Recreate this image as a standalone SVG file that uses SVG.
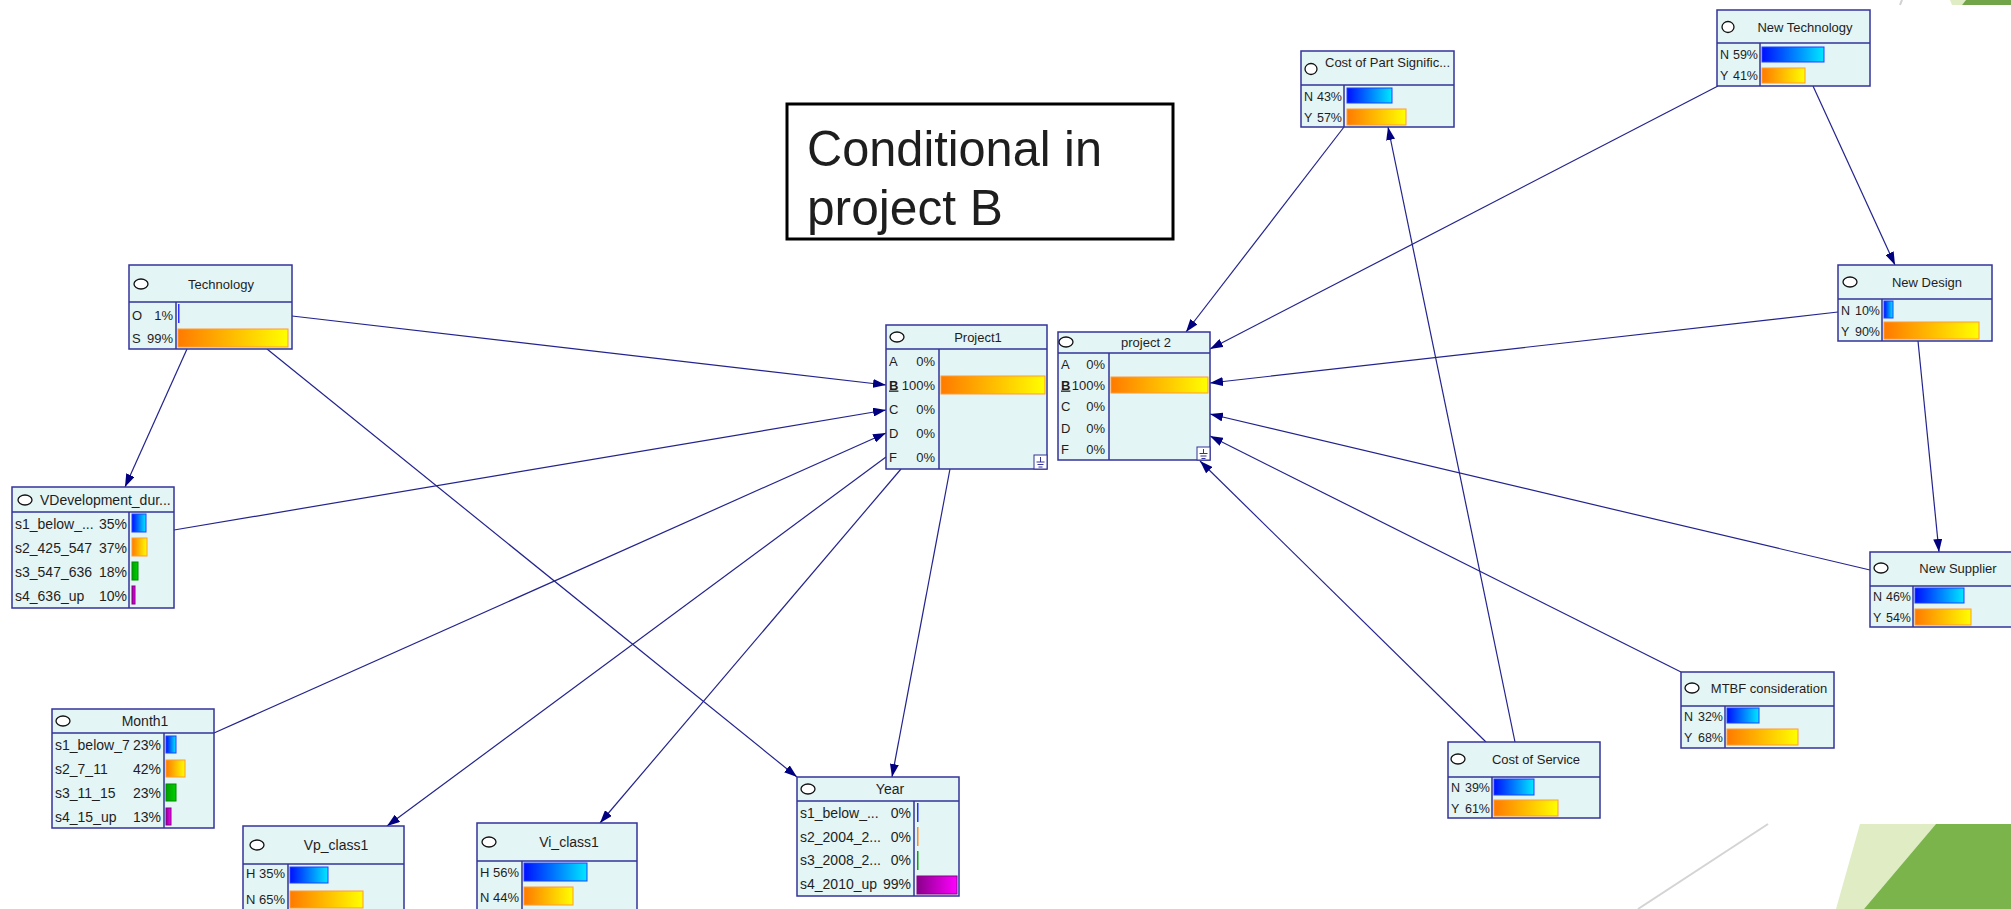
<svg xmlns="http://www.w3.org/2000/svg" width="2011" height="909" viewBox="0 0 2011 909">
  <defs>
    <style>
      .box { fill: #e4f5f5; stroke: #33339a; stroke-width: 1.5; }
      .div { stroke: #33339a; stroke-width: 1.5; fill: none; }
      .ic { fill: #ffffff; stroke: #111111; stroke-width: 1.3; }
      .t { font-family: "Liberation Sans", Arial, sans-serif; fill: #1e1e1e; }
      .h13 { font-size: 13px; }
      .h14 { font-size: 14px; }
      .r13 { font-size: 13px; }
      .r14 { font-size: 14px; }
      .r12 { font-size: 12.5px; }
      .mid { text-anchor: middle; }
      .end { text-anchor: end; }
      .sel { font-weight: bold; text-decoration: underline; }
      .edge { stroke: #23238e; stroke-width: 1.2; fill: none; marker-end: url(#arr); }
      .bb { fill: url(#gBlue); stroke: #2040ff; stroke-width: 1; }
      .bo { fill: url(#gOrange); stroke: #ff9a33; stroke-width: 1; }
      .bg { fill: url(#gGreen); stroke: #008a00; stroke-width: 1; }
      .bp { fill: url(#gPurple); stroke: #880088; stroke-width: 1; }
      .gnd { stroke: #33339a; stroke-width: 1; fill: none; }
    </style>
    <linearGradient id="gBlue" x1="0" y1="0" x2="1" y2="0">
      <stop offset="0" stop-color="#0010ff"/>
      <stop offset="1" stop-color="#00e8ff"/>
    </linearGradient>
    <linearGradient id="gOrange" x1="0" y1="0" x2="1" y2="0">
      <stop offset="0" stop-color="#ff7a00"/>
      <stop offset="1" stop-color="#ffff00"/>
    </linearGradient>
    <linearGradient id="gGreen" x1="0" y1="0" x2="1" y2="0">
      <stop offset="0" stop-color="#00a000"/>
      <stop offset="1" stop-color="#00d000"/>
    </linearGradient>
    <linearGradient id="gPurple" x1="0" y1="0" x2="1" y2="0">
      <stop offset="0" stop-color="#8a008a"/>
      <stop offset="1" stop-color="#ff00ff"/>
    </linearGradient>
    <marker id="arr" markerUnits="userSpaceOnUse" markerWidth="13" markerHeight="9" refX="13" refY="4.5" orient="auto">
      <path d="M0,0 L13,4.5 L0,9 Z" fill="#000080"/>
    </marker>
  </defs>

  <rect x="0" y="0" width="2011" height="909" fill="#ffffff"/>

  <!-- slide corner decoration -->
  <g id="decor">
    <line x1="1902" y1="0" x2="1900" y2="5" stroke="#d0d0d0" stroke-width="2"/>
    <polygon points="1950,0 1966,0 1962,5 1952,5" fill="#dfecc4"/>
    <polygon points="1966,0 2011,0 2011,5 1962,5" fill="#72a44a"/>
    <line x1="1768" y1="824" x2="1638" y2="909" stroke="#d4d4d4" stroke-width="2"/>
    <polygon points="1860,824 1936,824 1864,909 1836,909" fill="#dfecc4"/>
    <polygon points="1936,824 2011,824 2011,909 1864,909" fill="#7ab44b"/>
  </g>

  <!-- annotation box -->
  <g id="note">
    <rect x="787" y="104" width="386" height="135" fill="#ffffff" stroke="#000000" stroke-width="3"/>
    <text class="t" x="807" y="166" font-size="50" textLength="295" lengthAdjust="spacingAndGlyphs" fill="#000">Conditional in</text>
    <text class="t" x="807" y="225" font-size="50" textLength="196" lengthAdjust="spacingAndGlyphs" fill="#000">project B</text>
  </g>

  <!-- connectors -->
  <g id="connectors">
    <line class="edge" x1="292" y1="316" x2="886" y2="385"/>
    <line class="edge" x1="187" y1="349" x2="125" y2="487"/>
    <line class="edge" x1="267" y1="349" x2="797" y2="777"/>
    <line class="edge" x1="174" y1="530" x2="886" y2="410"/>
    <line class="edge" x1="214" y1="733" x2="886" y2="433"/>
    <line class="edge" x1="886" y1="457" x2="387" y2="826"/>
    <line class="edge" x1="901" y1="469" x2="600" y2="823"/>
    <line class="edge" x1="950" y1="469" x2="892" y2="777"/>
    <line class="edge" x1="1344" y1="127" x2="1186" y2="332"/>
    <line class="edge" x1="1718" y1="86" x2="1210" y2="349"/>
    <line class="edge" x1="1813" y1="86" x2="1895" y2="265"/>
    <line class="edge" x1="1838" y1="312" x2="1210" y2="383"/>
    <line class="edge" x1="1918" y1="341" x2="1939" y2="552"/>
    <line class="edge" x1="1870" y1="570" x2="1210" y2="414"/>
    <line class="edge" x1="1681" y1="672" x2="1210" y2="436"/>
    <line class="edge" x1="1486" y1="742" x2="1200" y2="461"/>
    <line class="edge" x1="1515" y1="742" x2="1388" y2="127"/>
  </g>

  <!-- Technology -->
  <g id="technology">
    <rect class="box" x="129" y="265" width="163" height="84"/>
    <line class="div" x1="129" y1="302" x2="292" y2="302"/>
    <line class="div" x1="176" y1="302" x2="176" y2="349"/>
    <ellipse class="ic" cx="141" cy="284" rx="7" ry="5"/>
    <text class="t h13 mid" x="221" y="288.5">Technology</text>
    <text class="t r13" x="132" y="319.5">O</text>
    <text class="t r13 end" x="173" y="319.5">1%</text>
    <text class="t r13" x="132" y="342.5">S</text>
    <text class="t r13 end" x="173" y="342.5">99%</text>
    <rect x="178" y="304" width="1.5" height="19" fill="#3030ff"/>
    <rect class="bo" x="178" y="329" width="110" height="18"/>
  </g>

  <!-- VDevelopment_duration -->
  <g id="vdevelopment">
    <rect class="box" x="12" y="487" width="162" height="121"/>
    <line class="div" x1="12" y1="512" x2="174" y2="512"/>
    <line class="div" x1="129" y1="512" x2="129" y2="608"/>
    <ellipse class="ic" cx="25" cy="500" rx="7" ry="5"/>
    <text class="t h14" x="40" y="505">VDevelopment_dur...</text>
    <text class="t r14" x="15" y="529">s1_below_...</text>
    <text class="t r14 end" x="127" y="529">35%</text>
    <text class="t r14" x="15" y="553">s2_425_547</text>
    <text class="t r14 end" x="127" y="553">37%</text>
    <text class="t r14" x="15" y="577">s3_547_636</text>
    <text class="t r14 end" x="127" y="577">18%</text>
    <text class="t r14" x="15" y="601">s4_636_up</text>
    <text class="t r14 end" x="127" y="601">10%</text>
    <rect class="bb" x="132" y="514" width="14" height="18"/>
    <rect class="bo" x="132" y="538" width="15" height="18"/>
    <rect class="bg" x="132" y="562" width="6" height="18"/>
    <rect class="bp" x="132" y="586" width="3" height="18"/>
  </g>

  <!-- Month1 -->
  <g id="month1">
    <rect class="box" x="52" y="709" width="162" height="119"/>
    <line class="div" x1="52" y1="733" x2="214" y2="733"/>
    <line class="div" x1="164" y1="733" x2="164" y2="828"/>
    <ellipse class="ic" cx="63" cy="721" rx="7" ry="5"/>
    <text class="t h14 mid" x="145" y="726">Month1</text>
    <text class="t r14" x="55" y="750">s1_below_7</text>
    <text class="t r14 end" x="161" y="750">23%</text>
    <text class="t r14" x="55" y="774">s2_7_11</text>
    <text class="t r14 end" x="161" y="774">42%</text>
    <text class="t r14" x="55" y="798">s3_11_15</text>
    <text class="t r14 end" x="161" y="798">23%</text>
    <text class="t r14" x="55" y="822">s4_15_up</text>
    <text class="t r14 end" x="161" y="822">13%</text>
    <rect class="bb" x="166" y="736" width="10" height="17"/>
    <rect class="bo" x="166" y="760" width="19" height="17"/>
    <rect class="bg" x="166" y="784" width="10" height="17"/>
    <rect class="bp" x="166" y="808" width="5" height="17"/>
  </g>

  <!-- Project1 -->
  <g id="project1">
    <rect class="box" x="886" y="325" width="161" height="144"/>
    <line class="div" x1="886" y1="349" x2="1047" y2="349"/>
    <line class="div" x1="939" y1="349" x2="939" y2="469"/>
    <ellipse class="ic" cx="897" cy="337" rx="7" ry="5"/>
    <text class="t h13 mid" x="978" y="341.5">Project1</text>
    <text class="t r13" x="889" y="365.5">A</text>
    <text class="t r13 end" x="935" y="365.5">0%</text>
    <text class="t r13 sel" x="889" y="389.5">B</text>
    <text class="t r13 end" x="935" y="389.5">100%</text>
    <text class="t r13" x="889" y="413.5">C</text>
    <text class="t r13 end" x="935" y="413.5">0%</text>
    <text class="t r13" x="889" y="437.5">D</text>
    <text class="t r13 end" x="935" y="437.5">0%</text>
    <text class="t r13" x="889" y="461.5">F</text>
    <text class="t r13 end" x="935" y="461.5">0%</text>
    <rect class="bo" x="941" y="376" width="104" height="18"/>
    <rect x="1034" y="455" width="13" height="14" fill="#ffffff" stroke="#33339a" stroke-width="1"/>
    <path class="gnd" d="M1040.5,457 V462 M1036.5,462 H1044.5 M1037.5,464.5 H1043.5 M1038.5,467 H1042.5"/>
  </g>

  <!-- project 2 -->
  <g id="project2">
    <rect class="box" x="1058" y="332" width="152" height="128"/>
    <line class="div" x1="1058" y1="353" x2="1210" y2="353"/>
    <line class="div" x1="1109" y1="353" x2="1109" y2="460"/>
    <ellipse class="ic" cx="1066" cy="342" rx="7" ry="5"/>
    <text class="t h13 mid" x="1146" y="346.5">project 2</text>
    <text class="t r13" x="1061" y="368.5">A</text>
    <text class="t r13 end" x="1105" y="368.5">0%</text>
    <text class="t r13 sel" x="1061" y="389.5">B</text>
    <text class="t r13 end" x="1105" y="389.5">100%</text>
    <text class="t r13" x="1061" y="411">C</text>
    <text class="t r13 end" x="1105" y="411">0%</text>
    <text class="t r13" x="1061" y="432.5">D</text>
    <text class="t r13 end" x="1105" y="432.5">0%</text>
    <text class="t r13" x="1061" y="454">F</text>
    <text class="t r13 end" x="1105" y="454">0%</text>
    <rect class="bo" x="1111" y="377" width="97" height="16"/>
    <rect x="1197" y="447" width="13" height="13" fill="#ffffff" stroke="#33339a" stroke-width="1"/>
    <path class="gnd" d="M1203.5,449 V453.5 M1199.5,453.5 H1207.5 M1200.5,456 H1206.5 M1201.5,458.5 H1205.5"/>
  </g>

  <!-- Vp_class1 -->
  <g id="vp_class1">
    <rect class="box" x="243" y="826" width="161" height="95"/>
    <line class="div" x1="243" y1="864" x2="404" y2="864"/>
    <line class="div" x1="288" y1="864" x2="288" y2="921"/>
    <ellipse class="ic" cx="257" cy="845" rx="7" ry="5"/>
    <text class="t h14 mid" x="336" y="850">Vp_class1</text>
    <text class="t r13" x="246" y="878">H</text>
    <text class="t r13 end" x="285" y="878">35%</text>
    <text class="t r13" x="246" y="904">N</text>
    <text class="t r13 end" x="285" y="904">65%</text>
    <rect class="bb" x="290" y="867" width="38" height="16"/>
    <rect class="bo" x="290" y="891" width="73" height="17"/>
  </g>

  <!-- Vi_class1 -->
  <g id="vi_class1">
    <rect class="box" x="477" y="823" width="160" height="98"/>
    <line class="div" x1="477" y1="861" x2="637" y2="861"/>
    <line class="div" x1="522" y1="861" x2="522" y2="921"/>
    <ellipse class="ic" cx="489" cy="842" rx="7" ry="5"/>
    <text class="t h14 mid" x="569" y="847">Vi_class1</text>
    <text class="t r13" x="480" y="876.5">H</text>
    <text class="t r13 end" x="519" y="876.5">56%</text>
    <text class="t r13" x="480" y="901.5">N</text>
    <text class="t r13 end" x="519" y="901.5">44%</text>
    <rect class="bb" x="524" y="863" width="63" height="18"/>
    <rect class="bo" x="524" y="887" width="49" height="18"/>
  </g>

  <!-- Year -->
  <g id="year">
    <rect class="box" x="797" y="777" width="162" height="119"/>
    <line class="div" x1="797" y1="801" x2="959" y2="801"/>
    <line class="div" x1="914" y1="801" x2="914" y2="896"/>
    <ellipse class="ic" cx="808" cy="789" rx="7" ry="5"/>
    <text class="t h14 mid" x="890" y="794">Year</text>
    <text class="t r14" x="800" y="818">s1_below_...</text>
    <text class="t r14 end" x="911" y="818">0%</text>
    <text class="t r14" x="800" y="842">s2_2004_2...</text>
    <text class="t r14 end" x="911" y="842">0%</text>
    <text class="t r14" x="800" y="865">s3_2008_2...</text>
    <text class="t r14 end" x="911" y="865">0%</text>
    <text class="t r14" x="800" y="889">s4_2010_up</text>
    <text class="t r14 end" x="911" y="889">99%</text>
    <rect x="917" y="803" width="1.5" height="19" fill="#2030ff"/>
    <rect x="917" y="827" width="1.5" height="19" fill="#ff8a20"/>
    <rect x="917" y="851" width="1.5" height="19" fill="#10a010"/>
    <rect class="bp" x="917" y="876" width="40" height="18"/>
  </g>

  <!-- Cost of Part Significance -->
  <g id="cost_of_part">
    <rect class="box" x="1301" y="51" width="153" height="76"/>
    <line class="div" x1="1301" y1="85" x2="1454" y2="85"/>
    <line class="div" x1="1344" y1="85" x2="1344" y2="127"/>
    <ellipse class="ic" cx="1311" cy="69" rx="6" ry="5.5"/>
    <text class="t h13" x="1325" y="67">Cost of Part Signific...</text>
    <text class="t r12" x="1304" y="100.5">N</text>
    <text class="t r12 end" x="1342" y="100.5">43%</text>
    <text class="t r12" x="1304" y="121.5">Y</text>
    <text class="t r12 end" x="1342" y="121.5">57%</text>
    <rect class="bb" x="1347" y="88" width="45" height="15"/>
    <rect class="bo" x="1347" y="109" width="59" height="16"/>
  </g>

  <!-- New Technology -->
  <g id="new_technology">
    <rect class="box" x="1717" y="10" width="153" height="76"/>
    <line class="div" x1="1717" y1="43" x2="1870" y2="43"/>
    <line class="div" x1="1760" y1="43" x2="1760" y2="86"/>
    <ellipse class="ic" cx="1728" cy="27" rx="6" ry="5.5"/>
    <text class="t h13 mid" x="1805" y="31.5">New Technology</text>
    <text class="t r12" x="1720" y="58.5">N</text>
    <text class="t r12 end" x="1758" y="58.5">59%</text>
    <text class="t r12" x="1720" y="80">Y</text>
    <text class="t r12 end" x="1758" y="80">41%</text>
    <rect class="bb" x="1762" y="47" width="62" height="15"/>
    <rect class="bo" x="1762" y="68" width="43" height="15"/>
  </g>

  <!-- New Design -->
  <g id="new_design">
    <rect class="box" x="1838" y="265" width="154" height="76"/>
    <line class="div" x1="1838" y1="299" x2="1992" y2="299"/>
    <line class="div" x1="1882" y1="299" x2="1882" y2="341"/>
    <ellipse class="ic" cx="1850" cy="282" rx="7" ry="5"/>
    <text class="t h13 mid" x="1927" y="286.5">New Design</text>
    <text class="t r12" x="1841" y="314.5">N</text>
    <text class="t r12 end" x="1880" y="314.5">10%</text>
    <text class="t r12" x="1841" y="335.5">Y</text>
    <text class="t r12 end" x="1880" y="335.5">90%</text>
    <rect class="bb" x="1884" y="301" width="9" height="17"/>
    <rect class="bo" x="1884" y="322" width="95" height="17"/>
  </g>

  <!-- New Supplier -->
  <g id="new_supplier">
    <rect class="box" x="1870" y="552" width="160" height="75"/>
    <line class="div" x1="1870" y1="586" x2="2030" y2="586"/>
    <line class="div" x1="1913" y1="586" x2="1913" y2="627"/>
    <ellipse class="ic" cx="1881" cy="568" rx="7" ry="5"/>
    <text class="t h13 mid" x="1958" y="572.5">New Supplier</text>
    <text class="t r12" x="1873" y="600.5">N</text>
    <text class="t r12 end" x="1911" y="600.5">46%</text>
    <text class="t r12" x="1873" y="621.5">Y</text>
    <text class="t r12 end" x="1911" y="621.5">54%</text>
    <rect class="bb" x="1915" y="588" width="49" height="15"/>
    <rect class="bo" x="1915" y="609" width="56" height="16"/>
  </g>

  <!-- MTBF consideration -->
  <g id="mtbf">
    <rect class="box" x="1681" y="672" width="153" height="76"/>
    <line class="div" x1="1681" y1="706" x2="1834" y2="706"/>
    <line class="div" x1="1725" y1="706" x2="1725" y2="748"/>
    <ellipse class="ic" cx="1692" cy="688" rx="7" ry="5"/>
    <text class="t h13 mid" x="1769" y="692.5">MTBF consideration</text>
    <text class="t r12" x="1684" y="720.5">N</text>
    <text class="t r12 end" x="1723" y="720.5">32%</text>
    <text class="t r12" x="1684" y="741.5">Y</text>
    <text class="t r12 end" x="1723" y="741.5">68%</text>
    <rect class="bb" x="1727" y="708" width="32" height="15"/>
    <rect class="bo" x="1727" y="729" width="71" height="16"/>
  </g>

  <!-- Cost of Service -->
  <g id="cost_of_service">
    <rect class="box" x="1448" y="742" width="152" height="76"/>
    <line class="div" x1="1448" y1="777" x2="1600" y2="777"/>
    <line class="div" x1="1492" y1="777" x2="1492" y2="818"/>
    <ellipse class="ic" cx="1458" cy="759" rx="7" ry="5"/>
    <text class="t h13 mid" x="1536" y="763.5">Cost of Service</text>
    <text class="t r12" x="1451" y="791.5">N</text>
    <text class="t r12 end" x="1490" y="791.5">39%</text>
    <text class="t r12" x="1451" y="812.5">Y</text>
    <text class="t r12 end" x="1490" y="812.5">61%</text>
    <rect class="bb" x="1494" y="779" width="40" height="16"/>
    <rect class="bo" x="1494" y="800" width="64" height="16"/>
  </g>
</svg>
